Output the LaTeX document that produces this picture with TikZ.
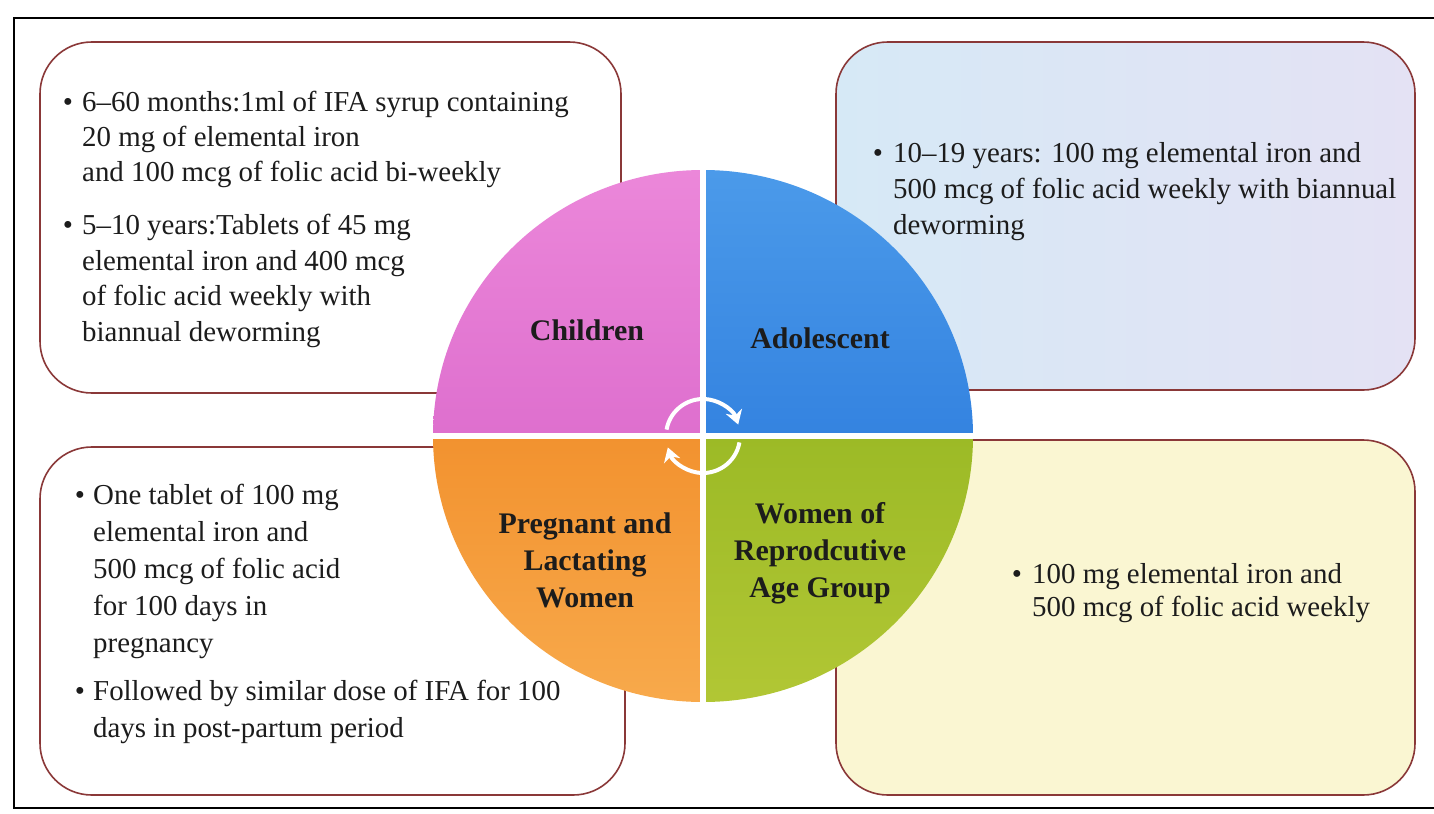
\documentclass[tikz,border=0pt]{standalone}
\usepackage{fontspec}
\setmainfont{Liberation Serif}
\usetikzlibrary{arrows.meta}
\definecolor{pinkA}{HTML}{EC88DA}
\definecolor{pinkB}{HTML}{DE6FCE}
\definecolor{blueA}{HTML}{4C9BEA}
\definecolor{blueB}{HTML}{3483E0}
\definecolor{orangeA}{HTML}{F8AA4C}
\definecolor{orangeB}{HTML}{F2922F}
\definecolor{greenA}{HTML}{B2C735}
\definecolor{greenB}{HTML}{9CBA26}
\definecolor{boxline}{HTML}{8A3838}
\definecolor{tealbg}{HTML}{D6E9F6}
\definecolor{lavbg}{HTML}{E4E2F4}
\definecolor{yelbg}{HTML}{FAF6D2}
\definecolor{ink}{HTML}{1C1C1C}
\tikzset{
  infobox/.style={draw=boxline, line width=1.6pt, rounded corners=52},
  bodytxt/.style={inner sep=0pt, anchor=base west, text=ink, font=\fontsize{29}{36}\selectfont},
  bul/.style={inner sep=0pt, anchor=base, text=ink, font=\fontsize{29}{36}\selectfont},
  lbl/.style={inner sep=0pt, align=center, text=ink, font=\fontsize{30}{37}\selectfont\bfseries},
  sep/.style={draw=white, line width=6pt},
  cyc/.style={draw=white, line width=4pt, -{Stealth[length=14pt,width=17pt]}}
}
\begin{document}
\begin{tikzpicture}[x=1bp,y=-1bp]
\useasboundingbox (0,0) rectangle (1434,813);
\fill[white] (0,0) rectangle (1434,813);
% outer frame
\draw[line width=2pt, black] (1434,18) -- (14,18) -- (14,808) -- (1434,808);
% boxes
\path[infobox, fill=white] (40,42) rectangle (621,393);
\path[infobox, left color=tealbg, right color=lavbg] (836,42) rectangle (1415,390);
\path[infobox, fill=white] (40,447) rectangle (625,795);
\path[infobox, fill=yelbg] (836,440) rectangle (1415,795);
% pie
\coordinate (c) at (703,436);
\begin{scope}
\clip (c) ellipse [x radius=270, y radius=266];
\shade[top color=pinkA, bottom color=pinkB] (420,160) rectangle (703,436);
\shade[top color=blueA, bottom color=blueB] (703,160) rectangle (990,436);
\shade[top color=orangeB, bottom color=orangeA] (420,436) rectangle (703,710);
\shade[top color=greenB, bottom color=greenA] (703,436) rectangle (990,710);
\end{scope}
\draw[sep] (703,168) -- (703,704);
\draw[sep] (431,436) -- (975,436);
% cycle arrows
\draw[cyc] (c) ++(190:37) arc[start angle=190, end angle=342, radius=37];
\draw[cyc] (c) ++(10:37) arc[start angle=10, end angle=162, radius=37];
% labels
\node[lbl] (children) at (587,330) {Children};
\node[lbl] (adol) at (820,338) {Adolescent};
\node[lbl] (preg) at (585,560) {Pregnant and\\Lactating\\Women};
\node[lbl] (women) at (820,553) {Women of\\Reprodcutive\\Age Group};
% top-left text
\node[bul] (tlb1) at (68,111) {\textbullet};
\node[bodytxt] (tl1) at (82,111) {6–60 months:1ml of IFA syrup containing};
\node[bodytxt] (tl2) at (82,146) {20 mg of elemental iron};
\node[bodytxt] (tl3) at (82,181) {and 100 mcg of folic acid bi-weekly};
\node[bul] (tlb2) at (68,234) {\textbullet};
\node[bodytxt] (tl4) at (82,234) {5–10 years:Tablets of 45 mg};
\node[bodytxt] (tl5) at (82,270) {elemental iron and 400 mcg};
\node[bodytxt] (tl6) at (82,305) {of folic acid weekly with};
\node[bodytxt] (tl7) at (82,341) {biannual deworming};
% top-right text
\node[bul] (trb1) at (878,162) {\textbullet};
\node[bodytxt] (tr1) at (893,162) {10–19 years: 100 mg elemental iron and};
\node[bodytxt] (tr2) at (893,198) {500 mcg of folic acid weekly with biannual};
\node[bodytxt] (tr3) at (893,234) {deworming};
% bottom-left text
\node[bul] (blb1) at (80,504) {\textbullet};
\node[bodytxt] (bl1) at (93,504) {One tablet of 100 mg};
\node[bodytxt] (bl2) at (93,541) {elemental iron and};
\node[bodytxt] (bl3) at (93,578) {500 mcg of folic acid};
\node[bodytxt] (bl4) at (93,615) {for 100 days in};
\node[bodytxt] (bl5) at (93,652) {pregnancy};
\node[bul] (blb2) at (80,700) {\textbullet};
\node[bodytxt] (bl6) at (93,700) {Followed by similar dose of IFA for 100};
\node[bodytxt] (bl7) at (93,737) {days in post-partum period};
% bottom-right text
\node[bul] (brb1) at (1017,583) {\textbullet};
\node[bodytxt] (br1) at (1032,583) {100 mg elemental iron and};
\node[bodytxt] (br2) at (1032,616) {500 mcg of folic acid weekly};
\end{tikzpicture}
\end{document}
